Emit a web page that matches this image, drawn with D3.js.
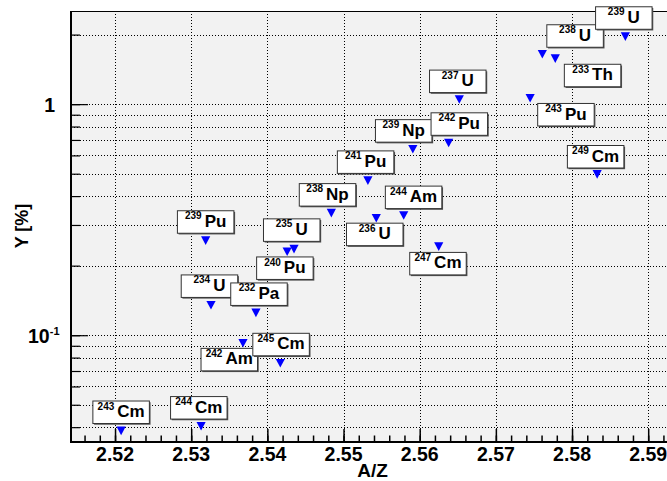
<!DOCTYPE html>
<html>
<head>
<meta charset="utf-8">
<script src="https://cdn.jsdelivr.net/npm/d3@7"></script>
<style>
  body { margin: 0; background: #fff; }
  text { font-family: "Liberation Sans", Arial, Helvetica, sans-serif; font-weight: bold; fill: #000; }
</style>
</head>
<body>
<div id="chart"></div>
<script>
// fissioning systems
const massNumbers = [243, 244, 242, 245, 234, 232, 239, 240, 235, 238, 241, 236, 244, 239, 242, 247, 237, 243, 238, 233, 249, 239];
const symbols     = ["Cm", "Cm", "Am", "Cm", "U", "Pa", "Pu", "Pu", "U", "Np", "Pu", "U", "Am", "Np", "Pu", "Cm", "U", "Pu", "U", "Th", "Cm", "U"];
const azValues    = [2.5208, 2.5313, 2.5368, 2.5417, 2.5326, 2.5385, 2.5319, 2.5426, 2.5435, 2.5484, 2.5532, 2.5543, 2.5579, 2.5591, 2.5638, 2.5625, 2.5652, 2.5745, 2.5761, 2.5778, 2.5833, 2.5870];
const yieldValues = [0.0386, 0.0404, 0.0924, 0.0757, 0.135, 0.125, 0.257, 0.230, 0.236, 0.338, 0.467, 0.321, 0.330, 0.639, 0.680, 0.242, 1.049, 1.061, 1.647, 1.575, 0.497, 1.962];
// where each label box sits, in A/Z and Y units
const labelAZ     = [2.5208, 2.5310, 2.5350, 2.5418, 2.5324, 2.5389, 2.5319, 2.5423, 2.5432, 2.5479, 2.5529, 2.5541, 2.5592, 2.5579, 2.5652, 2.5624, 2.5650, 2.5792, 2.5804, 2.5827, 2.5831, 2.5868];
const labelY      = [0.0464, 0.0485, 0.0784, 0.0911, 0.163, 0.1505, 0.309, 0.195, 0.285, 0.405, 0.561, 0.273, 0.395, 0.766, 0.820, 0.204, 1.255, 0.900, 1.972, 1.330, 0.592, 2.359];

const xTickValues = [2.52, 2.53, 2.54, 2.55, 2.56, 2.57, 2.58, 2.59];
const yTickLabels = [{ v: 1, base: "1", exp: "" }, { v: 0.1, base: "10", exp: "-1" }];

const width = 667, height = 481;
const mLeft = 71, mTop = 11, mRight = 668, mBottom = 442;

const svg = d3.select("#chart").append("svg")
  .attr("width", width)
  .attr("height", height);

const x = d3.scaleLinear().domain([2.51422, 2.5926]).range([mLeft, mRight]);
const y = d3.scaleLog().domain([0.0345, 2.53]).range([mBottom, mTop]);

const px = v => Math.round(v) + 0.5;

// plot background
svg.append("rect")
  .attr("x", mLeft).attr("y", mTop)
  .attr("width", mRight - mLeft).attr("height", mBottom - mTop)
  .attr("fill", "#f2f2f2");

// dotted grid
const grid = svg.append("g")
  .attr("stroke", "#000")
  .attr("stroke-width", 1)
  .attr("stroke-dasharray", "1,2");

grid.selectAll(".vg").data(xTickValues).enter().append("line")
  .attr("x1", d => px(x(d))).attr("x2", d => px(x(d)))
  .attr("y1", mTop).attr("y2", mBottom);

grid.selectAll(".hg").data(y.ticks()).enter().append("line")
  .attr("x1", mLeft).attr("x2", mRight)
  .attr("y1", d => px(y(d))).attr("y2", d => px(y(d)));

// x axis ticks (inward)
const xAxis = svg.append("g").attr("transform", `translate(0,${mBottom})`);
xAxis.append("g").call(d3.axisBottom(x).tickValues(x.ticks(40)).tickSize(-6.5).tickFormat(""));
xAxis.append("g").call(d3.axisBottom(x).tickValues(xTickValues).tickSize(-13).tickFormat(""));
xAxis.selectAll(".domain").remove();
xAxis.selectAll("line").attr("stroke", "#000").attr("stroke-width", 1.5);

// y axis ticks (inward)
const yAxis = svg.append("g").attr("transform", `translate(${mLeft},0)`);
yAxis.append("g").call(d3.axisLeft(y).tickValues(y.ticks()).tickSize(-9).tickFormat(""));
yAxis.append("g").call(d3.axisLeft(y).tickValues(yTickLabels.map(d => d.v)).tickSize(-17).tickFormat(""));
yAxis.selectAll(".domain").remove();
yAxis.selectAll("line").attr("stroke", "#000").attr("stroke-width", 1.2);

// frame
svg.append("line").attr("x1", mLeft).attr("x2", mRight).attr("y1", mTop + 0.5).attr("y2", mTop + 0.5)
  .attr("stroke", "#000").attr("stroke-width", 1);
svg.append("line").attr("x1", mLeft).attr("x2", mLeft).attr("y1", mTop).attr("y2", mBottom + 1)
  .attr("stroke", "#000").attr("stroke-width", 2);
svg.append("line").attr("x1", mLeft - 1).attr("x2", mRight).attr("y1", mBottom).attr("y2", mBottom)
  .attr("stroke", "#000").attr("stroke-width", 2);

// tick labels
svg.selectAll(".xl").data(xTickValues).enter().append("text")
  .attr("x", d => x(d))
  .attr("y", 461)
  .attr("text-anchor", "middle")
  .attr("font-size", 19.5)
  .text(d => d.toFixed(2));

yTickLabels.forEach(d => {
  const t = svg.append("text")
    .attr("x", d.exp ? 59.5 : 55)
    .attr("y", y(d.v) + 7.5)
    .attr("text-anchor", "end")
    .attr("font-size", 19.5);
  t.append("tspan").text(d.base);
  if (d.exp) t.append("tspan").attr("font-size", 11).attr("dy", -7.5).text(d.exp);
});

// axis titles
svg.append("text")
  .attr("x", 372.5).attr("y", 477)
  .attr("text-anchor", "middle")
  .attr("font-size", 19)
  .text("A/Z");

svg.append("text")
  .attr("transform", "translate(27.5,226) rotate(-90)")
  .attr("text-anchor", "middle")
  .attr("font-size", 18)
  .text("Y [%]");

// markers
const pts = d3.range(azValues.length);
svg.selectAll(".mk").data(pts).enter().append("path")
  .attr("transform", i => `translate(${x(azValues[i])},${y(yieldValues[i])})`)
  .attr("d", "M-4.6,-4.2L4.6,-4.2L0,4.4Z")
  .attr("fill", "#0000ff");

// label boxes
const bw = 56.5, bh = 22.5;
const boxes = svg.selectAll(".lb").data(pts).enter().append("g")
  .attr("transform", i => `translate(${x(labelAZ[i])},${y(labelY[i])})`);

boxes.append("rect")
  .attr("x", -bw / 2 + 1.2).attr("y", -bh / 2 + 1.2)
  .attr("width", bw).attr("height", bh)
  .attr("fill", "#555");
boxes.append("rect")
  .attr("x", -bw / 2).attr("y", -bh / 2)
  .attr("width", bw).attr("height", bh)
  .attr("fill", "#fff")
  .attr("stroke", "#333")
  .attr("stroke-width", 1);

const lt = boxes.append("text")
  .attr("x", 0)
  .attr("y", 4.8)
  .attr("text-anchor", "middle")
  .attr("font-size", 17);
lt.append("tspan").attr("font-size", 10).attr("dy", -7.5).text(i => massNumbers[i]);
lt.append("tspan").attr("dy", 7.5).attr("dx", 3).text(i => symbols[i]);
</script>
</body>
</html>
